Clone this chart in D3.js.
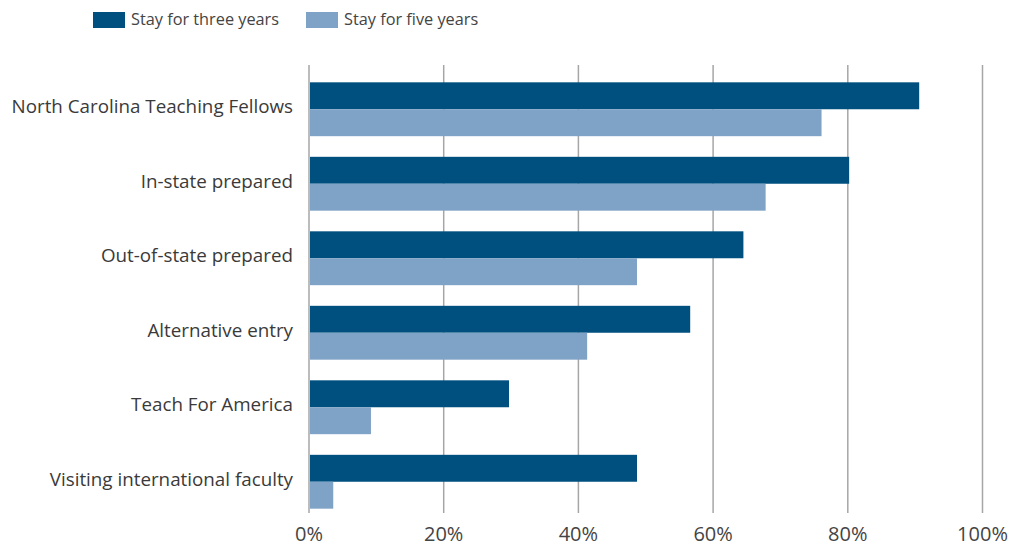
<!DOCTYPE html>
<html>
<head>
<meta charset="utf-8">
<script src="https://cdn.jsdelivr.net/npm/d3@7"></script>
<style>
  body { margin: 0; background: #fff; }
  text { font-family: "Open Sans", "Noto Sans", sans-serif; }
</style>
</head>
<body>
<script>
// data
const categories = [
  "North Carolina Teaching Fellows",
  "In-state prepared",
  "Out-of-state prepared",
  "Alternative entry",
  "Teach For America",
  "Visiting international faculty"
];
const seriesNames = ["Stay for three years", "Stay for five years"];
const threeYears = [90.6, 80.2, 64.5, 56.6, 29.7, 48.7];
const fiveYears = [76.1, 67.8, 48.7, 41.3, 9.2, 3.6];
const tickValues = [0, 20, 40, 60, 80, 100];
const colors = ["#00507f", "#7fa3c6"];

const svg = d3.select("body")
  .append("svg")
  .attr("width", 1010)
  .attr("height", 546);

const x = d3.scaleLinear().domain([0, 100]).range([309, 982.5]);

const y = d3.scaleBand()
  .domain(categories)
  .range([72, 519])
  .paddingInner(0.277)
  .paddingOuter(0.1385);

const ySub = d3.scaleBand()
  .domain(seriesNames)
  .range([0, y.bandwidth()]);

// Gridlines
svg.append("g")
  .selectAll("line")
  .data(tickValues)
  .join("line")
  .attr("x1", d => x(d))
  .attr("x2", d => x(d))
  .attr("y1", 65)
  .attr("y2", 513)
  .attr("stroke", "#a6a6a6")
  .attr("stroke-width", 1.5);

// Bars
const rows = categories.map((c, i) => ({ cat: c, vals: [threeYears[i], fiveYears[i]] }));

const group = svg.append("g")
  .selectAll("g")
  .data(rows)
  .join("g")
  .attr("transform", d => `translate(0,${y(d.cat)})`);

group.selectAll("rect")
  .data(d => d.vals.map((v, j) => ({ v, s: seriesNames[j], j })))
  .join("rect")
  .attr("x", x(0) + 1)
  .attr("y", d => ySub(d.s))
  .attr("width", d => x(d.v) - x(0) - 1)
  .attr("height", ySub.bandwidth())
  .attr("fill", d => colors[d.j]);

// Category labels
svg.append("g")
  .selectAll("text")
  .data(categories)
  .join("text")
  .attr("x", 293)
  .attr("y", d => y(d) + y.bandwidth() / 2 - 1)
  .attr("text-anchor", "end")
  .attr("dominant-baseline", "middle")
  .attr("font-size", 18.8)
  .attr("fill", "#3a3a3a")
  .text(d => d);

// X tick labels
svg.append("g")
  .selectAll("text")
  .data(tickValues)
  .join("text")
  .attr("x", d => x(d))
  .attr("y", 541)
  .attr("text-anchor", "middle")
  .attr("font-size", 20)
  .attr("fill", "#444")
  .text(d => d + "%");

// Legend
const legendX = [93, 306];
const legend = svg.append("g")
  .selectAll("g")
  .data(seriesNames)
  .join("g")
  .attr("transform", (d, i) => `translate(${legendX[i]},12)`);

legend.append("rect")
  .attr("width", 32)
  .attr("height", 16)
  .attr("fill", (d, i) => colors[i]);

legend.append("text")
  .attr("x", 38)
  .attr("y", 9)
  .attr("dominant-baseline", "middle")
  .attr("font-size", 16.3)
  .attr("fill", "#444")
  .text(d => d);
</script>
</body>
</html>
